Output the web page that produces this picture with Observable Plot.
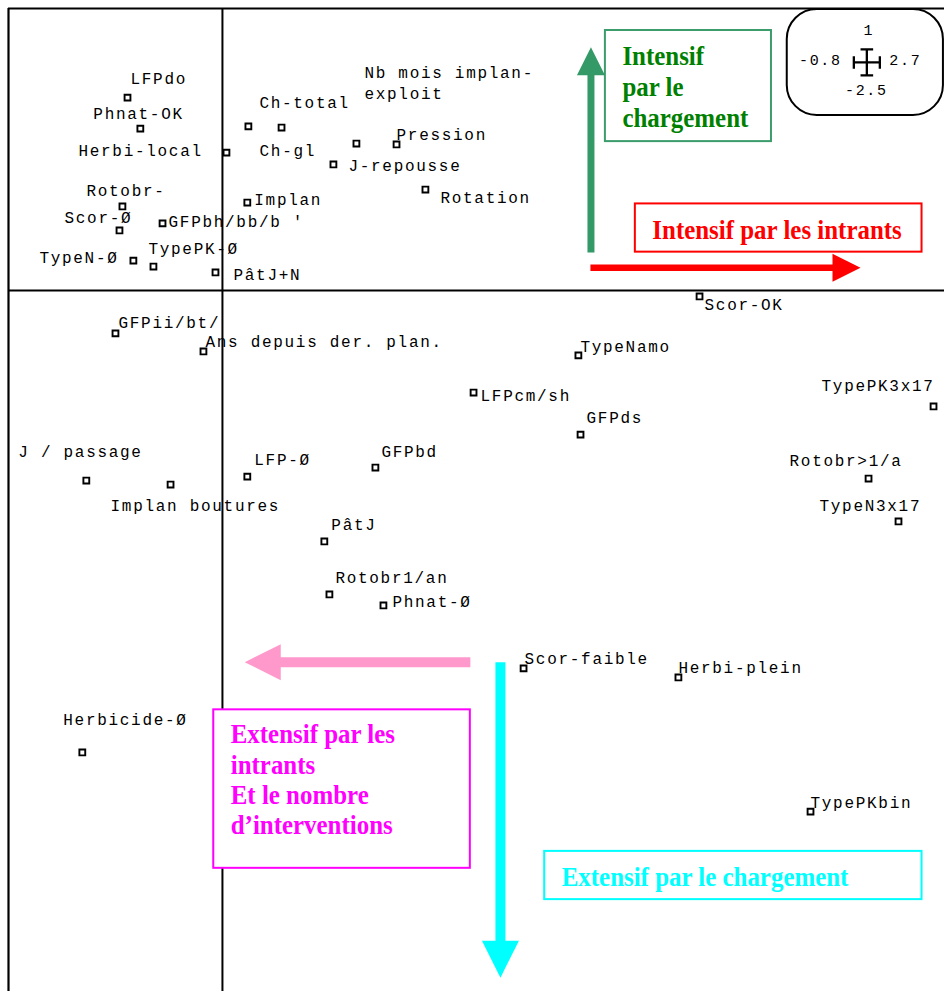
<!DOCTYPE html>
<html><head><meta charset="utf-8">
<script src="https://cdn.jsdelivr.net/npm/d3@7"></script>
<script src="https://cdn.jsdelivr.net/npm/@observablehq/plot@0.6"></script>
<style>
html,body{margin:0;padding:0;background:#fff;overflow:hidden}
</style>
</head><body><div id="chart"></div>
<script>
// Axis extents (shown in the scale legend)
const xDomain = [-0.8, 2.7];
const yDomain = [-2.5, 1];

// Modalities and their coordinates on factorial axes 1 and 2
const names = ["LFPdo","Phnat-OK","Herbi-local","Ch-total","Ch-gl","Nb mois implan-\nexploit","Pression","J-repousse","Rotation","Rotobr-","Scor-Ø","GFPbh/bb/b '","Implan","TypeN-Ø","TypePK-Ø","PâtJ+N","GFPii/bt/","Ans depuis der. plan.","J / passage","Implan boutures","LFP-Ø","GFPbd","PâtJ","Rotobr1/an","Phnat-Ø","LFPcm/sh","Scor-OK","TypeNamo","GFPds","TypePK3x17","Rotobr>1/a","TypeN3x17","Herbicide-Ø","Scor-faible","Herbi-plein","TypePKbin"];
const axis1 = [-0.355,-0.307,0.015,0.097,0.221,0.501,0.651,0.415,0.759,-0.374,-0.385,-0.224,0.093,-0.333,-0.258,-0.026,-0.400,-0.071,-0.509,-0.194,0.093,0.572,0.381,0.400,0.602,0.939,1.784,1.331,1.339,2.659,2.416,2.528,-0.524,1.126,1.705,2.199];
const axis2 = [0.684,0.574,0.489,0.582,0.578,0.521,0.518,0.447,0.358,0.298,0.213,0.238,0.312,0.106,0.085,0.064,-0.152,-0.216,-0.674,-0.688,-0.660,-0.628,-0.890,-1.078,-1.117,-0.362,-0.021,-0.230,-0.511,-0.411,-0.667,-0.819,-1.638,-1.340,-1.372,-1.848];

// Label placement offsets (pixels, layout only)
const labelDx = [3,-47,-148,11,-22,8,0,15,15,-36,-55,6,7,-94,-5,18,3,2,-68,-60,7,6,7,6,9,7,5,2,6,-112,-79,-79,-19,1,0,0];
const labelDy = [-20,-16,-3,-25,22,-61.5,-11,0,7,-17,-14,-3,-4,-4,-19,1,-12,-11,-30,20,-18,-17,-18,-18,-5,2,7,-10,-18,-22,-19,-17,-34,-11,-11,-10];

// Interpretation annotations
const boxTexts = ["Intensif\npar le\nchargement", "Intensif par les intrants", "Extensif par les\nintrants\nEt le nombre\nd’interventions", "Extensif par le chargement"];
const boxes = [
  {x1:1.432, x2:2.053, y1:0.922, y2:0.528, stroke:"#3c9c6c", color:"#008000", lh:1.107, dy:0},
  {x1:1.544, x2:2.616, y1:0.307, y2:0.136, stroke:"#ff0000", color:"#ff0000", lh:1.1, dy:1},
  {x1:-0.0325, x2:0.927, y1:-1.487, y2:-2.049, stroke:"#ff00ff", color:"#ff00ff", lh:1.08, dy:-10},
  {x1:1.205, x2:2.616, y1:-1.989, y2:-2.160, stroke:"#00ffff", color:"#00ffff", lh:1.1, dy:1}
].map((b, i) => ({...b, text: boxTexts[i]}));
const arrows = [
  {x1:1.378, y1:0.135, x2:1.378, y2:0.863, color:"#339966", w:7, head:28, rot:0},
  {x1:1.376, y1:0.0805, x2:2.386, y2:0.0805, color:"#ff0000", w:6.5, head:28, rot:90},
  {x1:0.927, y1:-1.318, x2:0.0834, y2:-1.318, color:"#ff99cc", w:10, head:36, rot:-90},
  {x1:1.0395, y1:-1.318, x2:1.0395, y2:-2.437, color:"#00ffff", w:10, head:37, rot:180}
];
const legendBox = [{x1:2.112, x2:2.696, y1:0.9965, y2:0.621}];
const legendLabels = [
  {text:String(yDomain[1]), dx:3.5, dy:-32},
  {text:String(xDomain[0]), dx:-45, dy:-2},
  {text:String(xDomain[1]), dx:40, dy:-2},
  {text:String(yDomain[0]), dx:1, dy:28}
];

const points = names.map((name, i) => ({name, x: axis1[i], y: axis2[i], dx: labelDx[i], dy: labelDy[i]}));

const headSymbol = {draw(ctx, size) { const r = Math.sqrt(size / Math.PI); ctx.moveTo(0, 0); ctx.lineTo(r / 2, r); ctx.lineTo(-r / 2, r); ctx.closePath(); }};
const crossSymbol = {draw(ctx, size) {
  const r = Math.sqrt(size / Math.PI), t = 6.3;
  ctx.moveTo(-r, 0); ctx.lineTo(r, 0); ctx.moveTo(0, -r); ctx.lineTo(0, r);
  ctx.moveTo(-r, -t); ctx.lineTo(-r, t); ctx.moveTo(r, -t); ctx.lineTo(r, t);
  ctx.moveTo(-t, -r); ctx.lineTo(t, -r); ctx.moveTo(-t, r); ctx.lineTo(t, r);
}};
const cx = d => (d.x1 + d.x2) / 2, cy = d => (d.y1 + d.y2) / 2;

const marks = [
  // frame (top and left) and axes
  Plot.ruleY([yDomain[1]], {x1: xDomain[0], x2: xDomain[1], stroke: "black", strokeWidth: 2}),
  Plot.ruleX([xDomain[0]], {y1: yDomain[0], y2: yDomain[1], stroke: "black", strokeWidth: 2.2}),
  Plot.ruleY([0], {x1: xDomain[0], x2: xDomain[1], stroke: "black", strokeWidth: 2}),
  Plot.ruleX([0], {y1: yDomain[0], y2: yDomain[1], stroke: "black", strokeWidth: 2}),
  // points
  Plot.dot(points, {x: "x", y: "y", symbol: "square", r: 3.3, stroke: "black", strokeWidth: 1.9, fill: "white"}),
  ...points.map(p => Plot.text([p], {x: "x", y: "y", text: "name", dx: p.dx, dy: p.dy, textAnchor: "start", fontFamily: "Liberation Mono", fontSize: 16, lineHeight: 1.31, fill: "black"})),
  // annotation boxes
  Plot.rect(boxes, {x1: "x1", x2: "x2", y1: "y1", y2: "y2", fill: "white", stroke: "stroke", strokeWidth: 2}),
  ...boxes.map(b => Plot.text([b], {x: "x1", y: cy, text: "text", dx: 17, dy: b.dy, textAnchor: "start", fill: b.color, fontFamily: "Liberation Serif", fontWeight: "bold", fontSize: 28, lineHeight: b.lh})),
  // arrows
  ...arrows.map(a => Plot.arrow([a], {x1: "x1", y1: "y1", x2: "x2", y2: "y2", headLength: 0, insetEnd: a.head - 2, stroke: a.color, strokeWidth: a.w, strokeLinecap: "butt"})),
  ...arrows.map(a => Plot.dot([a], {x: "x2", y: "y2", symbol: headSymbol, r: a.head, rotate: a.rot, fill: a.color, stroke: "none"})),
  // scale legend
  Plot.rect(legendBox, {x1: "x1", x2: "x2", y1: "y1", y2: "y2", rx: 30, fill: "white", stroke: "black", strokeWidth: 2}),
  Plot.dot(legendBox, {x: cx, y: cy, dx: 1.5, symbol: crossSymbol, r: 13, fill: "none", stroke: "black", strokeWidth: 2.3}),
  ...legendLabels.map(l => Plot.text(legendBox, {x: cx, y: cy, text: () => l.text, dx: l.dx, dy: l.dy, textAnchor: "middle", fontFamily: "Liberation Mono", fontSize: 15, fill: "black"}))
];

const svg = Plot.plot({
  width: 944, height: 991, margin: 0,
  x: {domain: xDomain, range: [8, 944], axis: null},
  y: {domain: yDomain, range: [995, 8], axis: null},
  style: {background: "white", overflow: "hidden", fontFamily: "Liberation Mono"},
  marks
});
document.getElementById("chart").append(svg);

d3.select(svg).selectAll('g[font-family="Liberation Mono"]').style("letter-spacing", "1.7px");
d3.select(svg).selectAll('g[font-family="Liberation Serif"] text').each(function() {
  const bb = this.getBBox();
  const t = this.getAttribute("transform") || "";
  this.setAttribute("transform", `${t} translate(${bb.x},0) scale(0.89,1) translate(${-bb.x},0)`);
});
</script>
</body></html>
